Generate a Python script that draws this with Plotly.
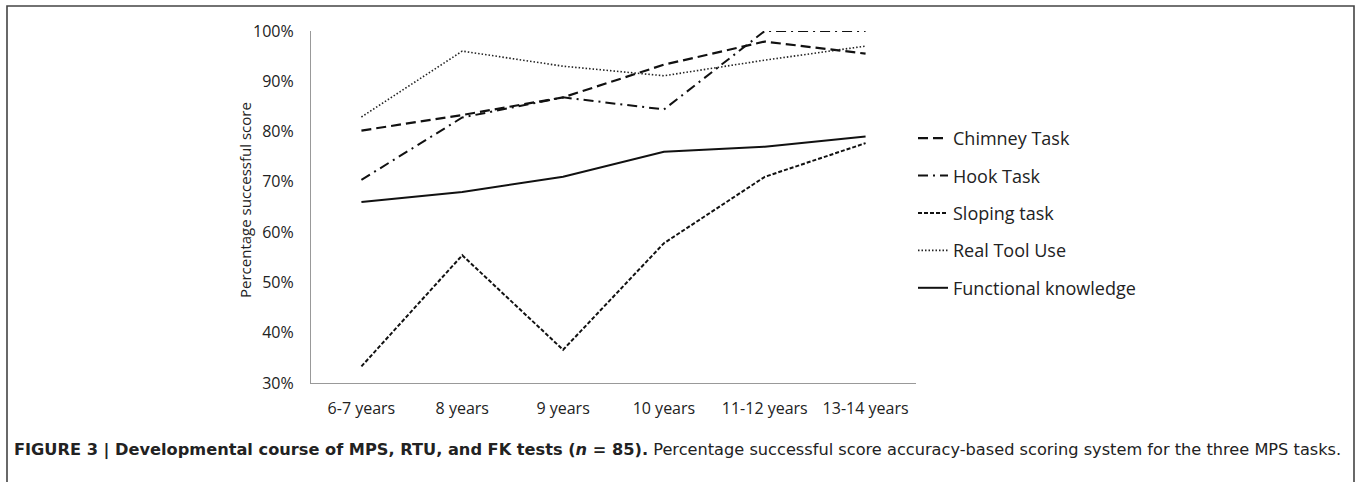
import plotly.graph_objects as go

categories = ["6-7 years", "8 years", "9 years", "10 years", "11-12 years", "13-14 years"]
chimney = [80.2, 83.3, 86.8, 93.3, 97.9, 95.5]
hook = [70.4, 82.8, 86.8, 84.4, 100.0, 100.0]
sloping = [33.3, 55.4, 36.6, 57.8, 71.0, 77.7]
real_tool_use = [82.9, 96.0, 93.0, 91.1, 94.2, 97.0]
functional = [66.0, 68.0, 71.0, 76.0, 77.0, 79.0]

series = [
    ("Chimney Task", chimney, "10px,5px", 2.2, "#111"),
    ("Hook Task", hook, "10px,5px,2px,5px", 2.0, "#111"),
    ("Sloping task", sloping, "4px,2px", 2.0, "#111"),
    ("Real Tool Use", real_tool_use, "1.5px,2px", 1.6, "#222"),
    ("Functional knowledge", functional, "solid", 2.0, "#111"),
]

fig = go.Figure()
for i, (name, vals, dash, w, col) in enumerate(series):
    fig.add_trace(go.Scatter(
        x=categories, y=[v / 100 for v in vals], mode="lines", name=name,
        legendgroup=f"g{i}",
        line=dict(color=col, width=w, dash=dash),
    ))

L, R, T, B = 311, 1357 - 916, 31, 482 - 383
W, H = 1357, 482
pw, ph = W - L - R, H - T - B

def px(x):
    return (x - L) / pw

def py(y):
    return (H - B - y) / ph

tick_font = dict(family="Open Sans, Liberation Sans, sans-serif", size=16, color="#222")

fig.update_layout(
    width=W, height=H,
    margin=dict(l=L, r=R, t=T, b=B),
    paper_bgcolor="white", plot_bgcolor="white",
    showlegend=True,
    legend=dict(
        x=px(913), y=py(120), xanchor="left", yanchor="top",
        traceorder="grouped", tracegroupgap=11,
        font=dict(family="Open Sans, Liberation Sans, sans-serif", size=18, color="#222"),
        bgcolor="rgba(0,0,0,0)",
    ),
    xaxis=dict(
        type="category", range=[-0.5, 5.5], showgrid=False, zeroline=False,
        showline=True, linecolor="#999", linewidth=1.2,
        ticks="", ticklabelstandoff=11, tickfont=tick_font,
    ),
    yaxis=dict(
        range=[0.3, 1.0], dtick=0.1, tickformat=".0%",
        showgrid=False, zeroline=False,
        showline=True, linecolor="#999", linewidth=1.2,
        ticks="", ticklabelstandoff=13, tickfont=tick_font,
    ),
    annotations=[
        dict(
            text="Percentage successful score", textangle=-90,
            x=px(245), y=py(200), xref="paper", yref="paper",
            showarrow=False, xanchor="center", yanchor="middle",
            font=dict(family="Open Sans, Liberation Sans, sans-serif", size=15, color="#222"),
        ),
        dict(
            text="<b>FIGURE 3 | Developmental course of MPS, RTU, and FK tests (<i>n</i> = 85).</b> "
                 "Percentage successful score accuracy-based scoring system for the three MPS tasks.",
            x=px(12), y=py(450), xref="paper", yref="paper",
            showarrow=False, xanchor="left", yanchor="middle",
            font=dict(family="DejaVu Sans, Liberation Sans, sans-serif",
                      size=16.2, color="#222"),
        ),
    ],
    shapes=[
        dict(type="rect", xref="paper", yref="paper",
             x0=px(7), x1=px(1354), y0=py(495), y1=py(6),
             line=dict(color="#444", width=1.6), fillcolor="rgba(0,0,0,0)", layer="below"),
    ],
)

fig.write_html("out.html", config={"displayModeBar": False},
               post_script="document.body.style.margin='0';")
